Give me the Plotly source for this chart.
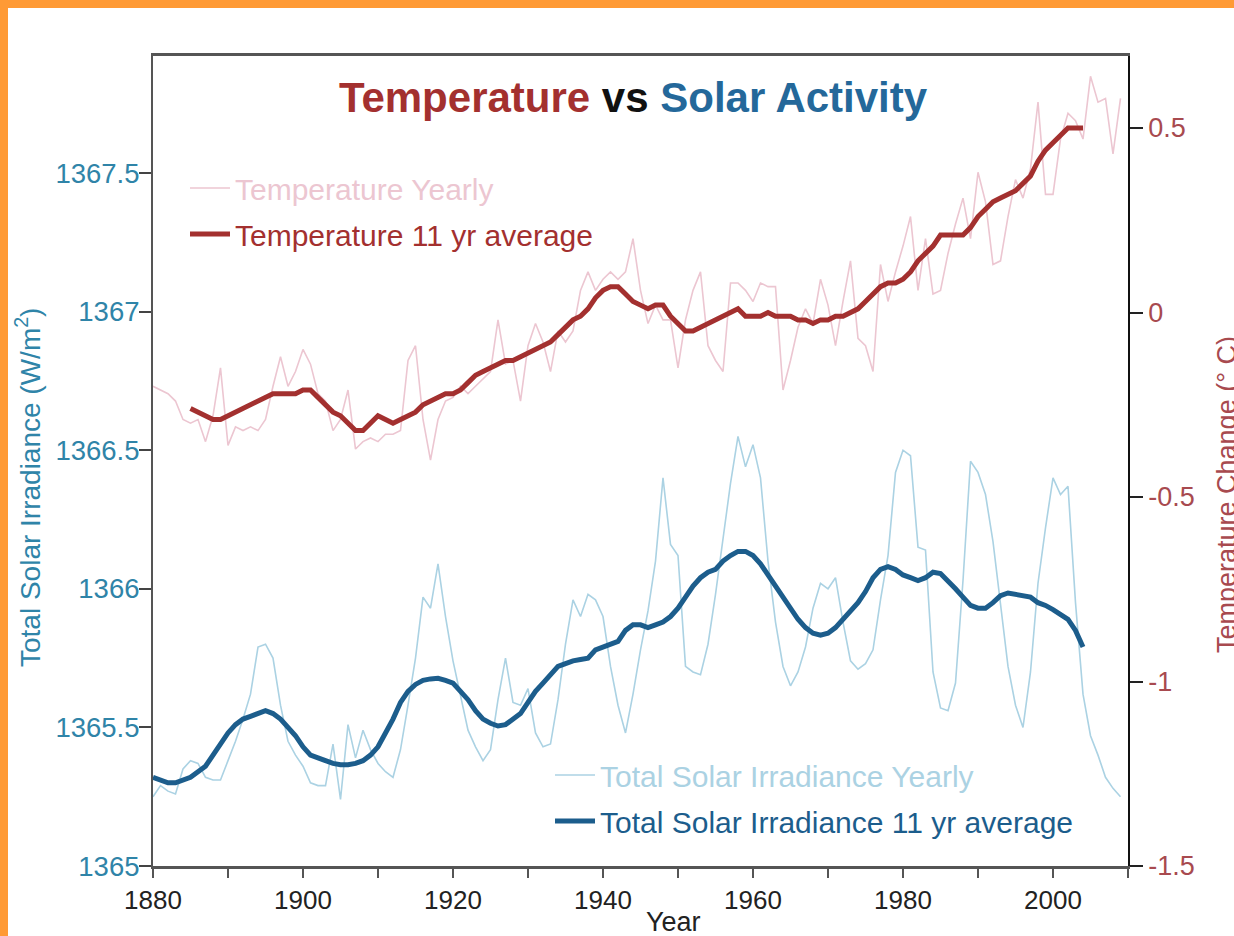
import plotly.graph_objects as go

# ---------------- data ----------------
years_yearly = list(range(1880, 2010))

temp_yearly = [
    -0.20, -0.21, -0.22, -0.24, -0.29, -0.30, -0.29, -0.35, -0.28, -0.15,  # 1880s
    -0.36, -0.31, -0.32, -0.31, -0.32, -0.29, -0.20, -0.12, -0.20, -0.16,  # 1890s
    -0.10, -0.14, -0.22, -0.24, -0.32, -0.29, -0.21, -0.37, -0.35, -0.34,  # 1900s
    -0.35, -0.33, -0.33, -0.32, -0.13, -0.09, -0.29, -0.40, -0.29, -0.24,  # 1910s
    -0.23, -0.20, -0.22, -0.20, -0.18, -0.16, -0.02, -0.14, -0.13, -0.24,  # 1920s
    -0.09, -0.03, -0.08, -0.16, -0.05, -0.08, -0.05, 0.06, 0.11, 0.06,     # 1930s
    0.09, 0.11, 0.09, 0.11, 0.20, 0.06, -0.03, 0.02, -0.02, -0.02,         # 1940s
    -0.15, -0.02, 0.06, 0.11, -0.09, -0.13, -0.16, 0.08, 0.08, 0.06,       # 1950s
    0.03, 0.08, 0.07, 0.07, -0.21, -0.13, -0.04, 0.01, -0.03, 0.09,        # 1960s
    0.02, -0.09, 0.03, 0.14, -0.07, -0.09, -0.16, 0.13, 0.03, 0.11,        # 1970s
    0.18, 0.26, 0.06, 0.20, 0.05, 0.06, 0.16, 0.24, 0.31, 0.20,            # 1980s
    0.38, 0.30, 0.13, 0.14, 0.26, 0.36, 0.31, 0.39, 0.57, 0.32,            # 1990s
    0.32, 0.47, 0.54, 0.52, 0.47, 0.64, 0.57, 0.58, 0.43, 0.58,            # 2000s
]

years_temp_avg = list(range(1885, 2005))
temp_avg = [
    -0.26, -0.27, -0.28, -0.29, -0.29,                                     # 1885-1889
    -0.28, -0.27, -0.26, -0.25, -0.24, -0.23, -0.22, -0.22, -0.22, -0.22,  # 1890s
    -0.21, -0.21, -0.23, -0.25, -0.27, -0.28, -0.30, -0.32, -0.32, -0.30,  # 1900s
    -0.28, -0.29, -0.30, -0.29, -0.28, -0.27, -0.25, -0.24, -0.23, -0.22,  # 1910s
    -0.22, -0.21, -0.19, -0.17, -0.16, -0.15, -0.14, -0.13, -0.13, -0.12,  # 1920s
    -0.11, -0.10, -0.09, -0.08, -0.06, -0.04, -0.02, -0.01, 0.01, 0.04,    # 1930s
    0.06, 0.07, 0.07, 0.05, 0.03, 0.02, 0.01, 0.02, 0.02, -0.01,           # 1940s
    -0.03, -0.05, -0.05, -0.04, -0.03, -0.02, -0.01, 0.00, 0.01, -0.01,    # 1950s
    -0.01, -0.01, 0.00, -0.01, -0.01, -0.01, -0.02, -0.02, -0.03, -0.02,   # 1960s
    -0.02, -0.01, -0.01, 0.00, 0.01, 0.03, 0.05, 0.07, 0.08, 0.08,         # 1970s
    0.09, 0.11, 0.14, 0.16, 0.18, 0.21, 0.21, 0.21, 0.21, 0.23,            # 1980s
    0.26, 0.28, 0.30, 0.31, 0.32, 0.33, 0.35, 0.37, 0.41, 0.44,            # 1990s
    0.46, 0.48, 0.50, 0.50, 0.50,                                          # 2000-2004
]

tsi_yearly = [
    1365.25, 1365.29, 1365.27, 1365.26, 1365.35, 1365.38, 1365.37, 1365.32, 1365.31, 1365.31,  # 1880s
    1365.38, 1365.45, 1365.53, 1365.62, 1365.79, 1365.80, 1365.75, 1365.58, 1365.45, 1365.40,  # 1890s
    1365.36, 1365.30, 1365.29, 1365.29, 1365.44, 1365.24, 1365.51, 1365.39, 1365.49, 1365.42,  # 1900s
    1365.37, 1365.34, 1365.32, 1365.42, 1365.58, 1365.75, 1365.97, 1365.93, 1366.09, 1365.90,  # 1910s
    1365.74, 1365.62, 1365.49, 1365.43, 1365.38, 1365.42, 1365.60, 1365.75, 1365.59, 1365.58,  # 1920s
    1365.64, 1365.48, 1365.43, 1365.44, 1365.60, 1365.80, 1365.96, 1365.90, 1365.98, 1365.96,  # 1930s
    1365.90, 1365.72, 1365.58, 1365.48, 1365.62, 1365.78, 1365.92, 1366.10, 1366.40, 1366.16,  # 1940s
    1366.12, 1365.72, 1365.70, 1365.69, 1365.80, 1365.98, 1366.19, 1366.38, 1366.55, 1366.44,  # 1950s
    1366.52, 1366.40, 1366.10, 1365.88, 1365.72, 1365.65, 1365.70, 1365.79, 1365.93, 1366.02,  # 1960s
    1366.00, 1366.04, 1365.88, 1365.74, 1365.71, 1365.73, 1365.78, 1365.96, 1366.12, 1366.42,  # 1970s
    1366.50, 1366.48, 1366.15, 1366.14, 1365.70, 1365.57, 1365.56, 1365.66, 1366.03, 1366.46,  # 1980s
    1366.42, 1366.34, 1366.17, 1365.95, 1365.72, 1365.58, 1365.50, 1365.70, 1366.02, 1366.22,  # 1990s
    1366.40, 1366.34, 1366.37, 1365.95, 1365.62, 1365.47, 1365.40, 1365.32, 1365.28, 1365.25,  # 2000s
]

years_tsi_avg = list(range(1880, 2005))
tsi_avg = [
    1365.320, 1365.310, 1365.300, 1365.300, 1365.310, 1365.320, 1365.340, 1365.360, 1365.400, 1365.440,  # 1880s
    1365.480, 1365.510, 1365.530, 1365.540, 1365.550, 1365.560, 1365.550, 1365.530, 1365.500, 1365.470,  # 1890s
    1365.430, 1365.400, 1365.390, 1365.380, 1365.370, 1365.365, 1365.365, 1365.370, 1365.380, 1365.400,  # 1900s
    1365.430, 1365.480, 1365.530, 1365.590, 1365.630, 1365.655, 1365.670, 1365.675, 1365.677, 1365.670,  # 1910s
    1365.660, 1365.630, 1365.600, 1365.560, 1365.530, 1365.515, 1365.505, 1365.510, 1365.530, 1365.550,  # 1920s
    1365.590, 1365.630, 1365.660, 1365.690, 1365.720, 1365.730, 1365.740, 1365.745, 1365.750, 1365.780,  # 1930s
    1365.790, 1365.800, 1365.810, 1365.850, 1365.870, 1365.870, 1365.860, 1365.870, 1365.880, 1365.900,  # 1940s
    1365.930, 1365.970, 1366.010, 1366.040, 1366.060, 1366.070, 1366.100, 1366.120, 1366.135, 1366.135,  # 1950s
    1366.120, 1366.090, 1366.050, 1366.010, 1365.970, 1365.930, 1365.890, 1365.860, 1365.840, 1365.833,  # 1960s
    1365.840, 1365.860, 1365.890, 1365.920, 1365.950, 1365.990, 1366.040, 1366.070, 1366.080, 1366.070,  # 1970s
    1366.050, 1366.040, 1366.030, 1366.040, 1366.060, 1366.055, 1366.030, 1366.000, 1365.970, 1365.940,  # 1980s
    1365.930, 1365.930, 1365.950, 1365.975, 1365.985, 1365.980, 1365.975, 1365.970, 1365.950, 1365.940,  # 1990s
    1365.925, 1365.910, 1365.890, 1365.850, 1365.790,                                                    # 2000-2004
]

x_tick_vals = [1880, 1900, 1920, 1940, 1960, 1980, 2000]
tsi_tick_vals = [1365, 1365.5, 1366, 1366.5, 1367, 1367.5]
tsi_tick_text = ["1365", "1365.5", "1366", "1366.5", "1367", "1367.5"]
temp_tick_vals = [-1.5, -1, -0.5, 0, 0.5]
temp_tick_text = ["-1.5", "-1", "-0.5", "0", "0.5"]

# ---------------- styling ----------------
FONT = "Liberation Sans, Arial, Helvetica, sans-serif"
RED_DARK = "#a3302f"
RED_LIGHT = "#ecc6d1"
BLUE_DARK = "#1c5d8c"
BLUE_LIGHT = "#abd2e3"
TEAL_TXT = "#2f84a8"
RED_TXT = "#a84a4f"

W, H = 1234, 936
L, R, T, B = 153, 1128, 56, 866
PW, PH = R - L, B - T


def px_x(px):
    return (px - L) / PW


def px_y(py):
    return (B - py) / PH


fig = go.Figure()

fig.add_trace(go.Scatter(
    x=years_yearly, y=tsi_yearly, mode="lines",
    line=dict(color=BLUE_LIGHT, width=1.6),
    name=f'<span style="color:{BLUE_LIGHT}">Total Solar Irradiance Yearly</span>',
    legend="legend2", legendgroup="a", yaxis="y",
))
fig.add_trace(go.Scatter(
    x=years_yearly, y=temp_yearly, mode="lines",
    line=dict(color=RED_LIGHT, width=1.6),
    name=f'<span style="color:{RED_LIGHT}">Temperature Yearly</span>',
    legend="legend", legendgroup="c", yaxis="y2",
))
fig.add_trace(go.Scatter(
    x=years_tsi_avg, y=tsi_avg, mode="lines",
    line=dict(color=BLUE_DARK, width=5),
    name=f'<span style="color:{BLUE_DARK}">Total Solar Irradiance 11 yr average</span>',
    legend="legend2", legendgroup="b", yaxis="y",
))
fig.add_trace(go.Scatter(
    x=years_temp_avg, y=temp_avg, mode="lines",
    line=dict(color=RED_DARK, width=5),
    name=f'<span style="color:{RED_DARK}">Temperature 11 yr average</span>',
    legend="legend", legendgroup="d", yaxis="y2",
))

fig.update_layout(
    width=W, height=H,
    margin=dict(l=L, r=W - R, t=T, b=H - B, autoexpand=False),
    paper_bgcolor="white", plot_bgcolor="white",
    font=dict(family=FONT, color="#222"),
    showlegend=True,
    title=dict(
        text=(f'<b><span style="color:{RED_DARK}">Temperature</span> '
              f'<span style="color:#111">vs</span> '
              f'<span style="color:#24689a">Solar Activity</span></b>'),
        font=dict(family=FONT, size=42),
        xref="paper", x=px_x(633), xanchor="center",
        yref="container", y=1 - 97 / H, yanchor="middle",
    ),
    xaxis=dict(
        range=[1880, 2010], tickmode="array", tickvals=x_tick_vals,
        ticks="outside", ticklen=9, tickwidth=1.5, tickcolor="#555",
        minor=dict(dtick=10, tick0=1880, ticks="outside", ticklen=9,
                   tickwidth=1.5, tickcolor="#555"),
        showline=True, linecolor="#555", linewidth=2.5, mirror=True,
        showgrid=False, zeroline=False,
        tickfont=dict(size=26, color="#222"),
    ),
    yaxis=dict(
        range=[1365, 1365 + PH / 277.2],
        tickmode="array", tickvals=tsi_tick_vals, ticktext=tsi_tick_text,
        ticks="outside", ticklen=12, tickwidth=1.5, tickcolor="#444",
        showline=True, linecolor="#555", linewidth=2,
        showgrid=False, zeroline=False,
        ticklabelstandoff=-6,
        tickfont=dict(size=27.5, color=TEAL_TXT),
    ),
    yaxis2=dict(
        range=[-1.5, -1.5 + PH / 369.0], overlaying="y", side="right",
        tickmode="array", tickvals=temp_tick_vals, ticktext=temp_tick_text,
        ticks="outside", ticklen=13, tickwidth=1.5, tickcolor="#222",
        showline=True, linecolor="#111", linewidth=1.5,
        showgrid=False, zeroline=False,
        tickfont=dict(size=27, color=RED_TXT),
    ),
    legend=dict(
        x=px_x(185), y=px_y(162), xanchor="left", yanchor="top",
        bgcolor="rgba(0,0,0,0)", borderwidth=0,
        font=dict(size=30), itemwidth=40, tracegroupgap=4,
        traceorder="grouped",
    ),
    legend2=dict(
        x=px_x(550), y=px_y(749), xanchor="left", yanchor="top",
        bgcolor="rgba(0,0,0,0)", borderwidth=0,
        font=dict(size=30), itemwidth=40, tracegroupgap=4,
        traceorder="grouped",
    ),
    annotations=[
        dict(text="Year", xref="paper", yref="paper", x=px_x(673), y=px_y(922),
             xanchor="center", yanchor="middle", showarrow=False,
             font=dict(size=27, color="#222")),
        dict(text="Total Solar Irradiance (W/m<sup>2</sup>)", xref="paper", yref="paper",
             x=px_x(28), y=px_y(488), xanchor="center", yanchor="middle",
             textangle=-90, showarrow=False, font=dict(size=28, color=TEAL_TXT)),
        dict(text="Temperature Change (° C)", xref="paper", yref="paper",
             x=px_x(1227), y=px_y(495), xanchor="center", yanchor="middle",
             textangle=-90, showarrow=False, font=dict(size=27, color=RED_TXT)),
    ],
    shapes=[
        dict(type="rect", xref="paper", yref="paper", layer="above",
             x0=px_x(0), x1=px_x(W), y0=px_y(0), y1=px_y(8),
             fillcolor="#ff9a35", line=dict(width=0)),
        dict(type="rect", xref="paper", yref="paper", layer="above",
             x0=px_x(0), x1=px_x(8), y0=px_y(0), y1=px_y(H),
             fillcolor="#ff9a35", line=dict(width=0)),
    ],
)

fig.write_html(
    "out.html",
    config={"displayModeBar": False},
    post_script="document.body.style.margin='0px';document.body.style.overflow='hidden';",
)
